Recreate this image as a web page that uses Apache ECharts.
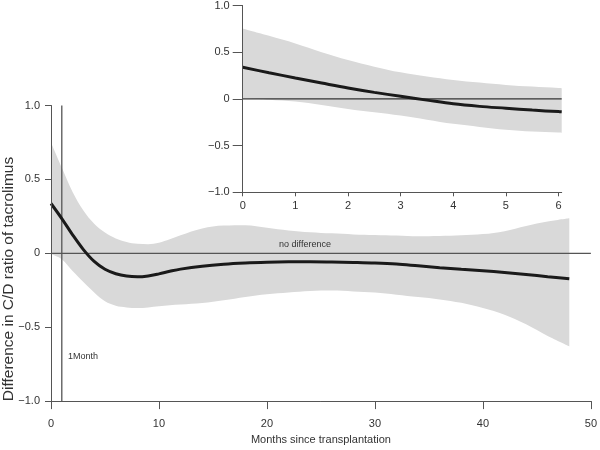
<!DOCTYPE html>
<html><head><meta charset="utf-8">
<script src="https://cdn.jsdelivr.net/npm/echarts@6/dist/echarts.min.js"></script>
<style>html,body{margin:0;padding:0;background:#fff}#c{width:600px;height:450px}</style>
</head><body><div id="c"></div>
<script>
// ---- main chart data (months since transplantation) ----
const mainMonths   = [0, 1, 2, 3, 4, 5, 6, 7, 8, 9, 10, 11, 12, 14, 16, 18, 20, 22, 24, 26, 28, 30, 32, 34, 36, 38, 40, 42, 44, 46, 48];
const mainEstimate = [0.337, 0.235, 0.125, 0.025, -0.055, -0.108, -0.138, -0.154, -0.159, -0.153, -0.139, -0.122, -0.107, -0.087, -0.074, -0.066, -0.061, -0.058, -0.057, -0.059, -0.062, -0.066, -0.073, -0.085, -0.097, -0.108, -0.118, -0.13, -0.143, -0.158, -0.172];
const mainUpper    = [0.75, 0.58, 0.415, 0.29, 0.2, 0.14, 0.1, 0.077, 0.064, 0.062, 0.072, 0.095, 0.122, 0.168, 0.188, 0.19, 0.173, 0.155, 0.143, 0.135, 0.128, 0.124, 0.12, 0.115, 0.117, 0.122, 0.13, 0.15, 0.185, 0.215, 0.237];
const mainLower    = [-0.005, -0.04, -0.12, -0.195, -0.265, -0.325, -0.355, -0.366, -0.37, -0.366, -0.358, -0.351, -0.347, -0.337, -0.318, -0.295, -0.277, -0.265, -0.255, -0.252, -0.258, -0.266, -0.28, -0.296, -0.312, -0.335, -0.37, -0.415, -0.48, -0.56, -0.63];
// ---- inset data (first months) ----
const insetMonths   = [0, 0.5, 1, 1.5, 2, 2.5, 3, 3.5, 4, 4.5, 5, 5.5, 6, 6.06];
const insetEstimate = [0.338, 0.28, 0.224, 0.17, 0.117, 0.07, 0.028, -0.013, -0.053, -0.08, -0.1, -0.12, -0.136, -0.138];
const insetUpper    = [0.754, 0.675, 0.594, 0.5, 0.416, 0.345, 0.284, 0.24, 0.203, 0.175, 0.15, 0.132, 0.117, 0.115];
const insetLower    = [0.006, -0.01, -0.029, -0.065, -0.107, -0.143, -0.178, -0.222, -0.267, -0.3, -0.331, -0.35, -0.36, -0.362];
// ---- axes / annotations ----
const mainXTicks    = [0, 10, 20, 30, 40, 50];
const insetXTicks   = [0, 1, 2, 3, 4, 5, 6];
const referenceMonth = 1;
const yAxisTitle = 'Difference in C/D ratio of tacrolimus';
const xAxisTitle = 'Months since transplantation';
const zeroLabel = 'no difference';
const monthLabel = '1Month';

const fmtY = v => v === 0 ? '0' : (v < 0 ? '\u2212' : '') + Math.abs(v).toFixed(1);
const zip = (xs, ys) => xs.map((x, i) => [x, ys[i]]);
// [value, month] rows so that the stack is applied to the value (y) column
const zipVY = (xs, ys) => xs.map((x, i) => [ys[i], x]);
const diff = (a, b) => a.map((v, i) => +(v - b[i]).toFixed(4));

const FONT = 'Liberation Sans';
const TXT = '#333';
const AX = '#555';
const BAND = '#d9d9d9';

const chart = echarts.init(document.getElementById('c'), null, {renderer: 'canvas'});

function xAxisCfg(gridIndex, max, ticks, opts) {
  return Object.assign({
    type: 'value', gridIndex, min: 0, max, z: 10,
    axisLine: {show: true, onZero: false, lineStyle: {color: AX, width: 1}},
    axisTick: {show: true, customValues: ticks, length: opts.tickLen, lineStyle: {color: AX}},
    axisLabel: {customValues: ticks, color: TXT, fontFamily: FONT, fontSize: opts.fs, margin: opts.margin},
    splitLine: {show: false}
  }, opts.extra || {});
}
function yAxisCfg(gridIndex, opts) {
  return {
    type: 'value', gridIndex, min: -1, max: 1, interval: 0.5, z: 10,
    axisLine: {show: true, onZero: false, lineStyle: {color: AX, width: 1}},
    axisTick: {show: true, length: opts.tickLen, lineStyle: {color: AX}},
    axisLabel: {color: TXT, fontFamily: FONT, fontSize: opts.fs, margin: opts.margin, formatter: fmtY},
    splitLine: {show: false}
  };
}

function bandSeries(xi, months, lower, upper, key) {
  return [
    {type: 'line', xAxisIndex: xi, yAxisIndex: xi, data: zipVY(months, lower), encode: {x: 1, y: 0},
     stack: key, stackStrategy: 'all',
     symbol: 'none', smooth: 0.35, lineStyle: {opacity: 0}, silent: true, z: 1},
    {type: 'line', xAxisIndex: xi, yAxisIndex: xi, data: zipVY(months, diff(upper, lower)), encode: {x: 1, y: 0},
     stack: key, stackStrategy: 'all',
     symbol: 'none', smooth: 0.35, lineStyle: {opacity: 0}, areaStyle: {color: BAND, opacity: 1}, silent: true, z: 1}
  ];
}
function straight(xi, pts, color, width, z) {
  return {type: 'line', xAxisIndex: xi, yAxisIndex: xi, data: pts, symbol: 'none', silent: true,
    lineStyle: {color, width}, z, clip: false};
}

chart.setOption({
  animation: false,
  backgroundColor: '#fff',
  grid: [
    {left: 51, right: 7.3, top: 105.5, height: 300},
    {left: 242.7, right: 38.3, top: 5, height: 187.3}
  ],
  xAxis: [
    xAxisCfg(0, 50, mainXTicks, {tickLen: 8, fs: 11, margin: 17,
      extra: {name: xAxisTitle, nameLocation: 'middle', nameGap: 28,
              nameTextStyle: {color: TXT, fontFamily: FONT, fontSize: 11}}}),
    xAxisCfg(1, 6.06, insetXTicks, {tickLen: 4, fs: 11, margin: 8})
  ],
  yAxis: [
    yAxisCfg(0, {tickLen: 6, fs: 11, margin: 11}),
    yAxisCfg(1, {tickLen: 10, fs: 11, margin: 13})
  ],
  series: [
    ...bandSeries(0, mainMonths, mainLower, mainUpper, 'mainBand'),
    straight(0, [[0, 0], [50, 0]], AX, 1.3, 3),
    straight(0, [[referenceMonth, -1], [referenceMonth, 1]], AX, 1.3, 3),
    {type: 'line', xAxisIndex: 0, yAxisIndex: 0, data: zip(mainMonths, mainEstimate), symbol: 'none',
     smooth: 0.35, silent: true, lineStyle: {color: '#1a1a1a', width: 3}, z: 4},
    ...bandSeries(1, insetMonths, insetLower, insetUpper, 'insetBand'),
    straight(1, [[0, 0], [6.06, 0]], '#333', 1.2, 3),
    {type: 'line', xAxisIndex: 1, yAxisIndex: 1, data: zip(insetMonths, insetEstimate), symbol: 'none',
     smooth: 0.35, silent: true, lineStyle: {color: '#1a1a1a', width: 3}, z: 4}
  ],
  graphic: [
    {type: 'text', x: 9, y: 279, rotation: Math.PI / 2, z: 10,
     style: {text: yAxisTitle, fill: TXT, font: '15.5px "' + FONT + '"', align: 'center', verticalAlign: 'middle'}},
    {type: 'text', x: 305, y: 245, z: 10,
     style: {text: zeroLabel, fill: TXT, font: '9px "' + FONT + '"', align: 'center', verticalAlign: 'middle'}},
    {type: 'text', x: 68, y: 357, z: 10,
     style: {text: monthLabel, fill: TXT, font: '9px "' + FONT + '"', align: 'left', verticalAlign: 'middle'}}
  ]
});
</script>
</body></html>
